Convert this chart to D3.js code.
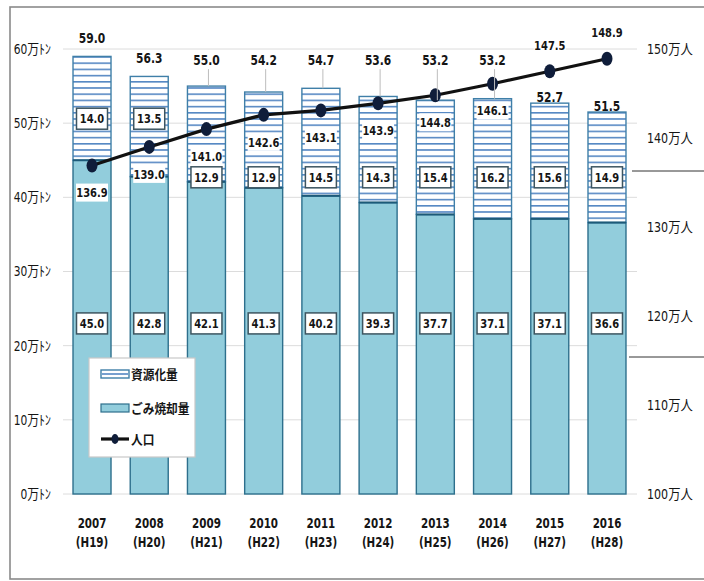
<!DOCTYPE html>
<html><head><meta charset="utf-8">
<script src="https://cdn.jsdelivr.net/npm/d3@7/dist/d3.min.js"></script>
<style>
html,body{margin:0;padding:0;background:#fff;}
text{font-family:"DejaVu Sans Condensed","Noto Sans CJK JP",sans-serif;font-stretch:condensed;fill:#151515;}
</style></head>
<body><svg id="c" width="704" height="581"></svg>
<script>
const years = ["2007","2008","2009","2010","2011","2012","2013","2014","2015","2016"];
const eras = ["(H19)","(H20)","(H21)","(H22)","(H23)","(H24)","(H25)","(H26)","(H27)","(H28)"];
const incineration = [45.0,42.8,42.1,41.3,40.2,39.3,37.7,37.1,37.1,36.6];
const recycling = [14.0,13.5,12.9,12.9,14.5,14.3,15.4,16.2,15.6,14.9];
const totals = [59.0,56.3,55.0,54.2,54.7,53.6,53.2,53.2,52.7,51.5];
const population = [136.9,139.0,141.0,142.6,143.1,143.9,144.8,146.1,147.5,148.9];
const leftTicks = [0,10,20,30,40,50,60];
const rightTicks = [100,110,120,130,140,150];
const leftUnit = "万ﾄﾝ";
const rightUnit = "万人";
const legendLabels = ["資源化量","ごみ焼却量","人口"];

const svg = d3.select("#c");
const x = d3.scaleBand().domain(years).range([63.4,635.6]).paddingInner(0.336).paddingOuter(0.168);
const y = d3.scaleLinear().domain([0,60]).range([494,49]);
const yR = d3.scaleLinear().domain([100,150]).range([494,49]);
const bw = x.bandwidth();
const cx = d => x(d) + bw/2;

const fillInc = "#92cddc", strokeBar = "#2d6f8c", stripe = "#4a7fbf";

function ctext(g, px, py, txt, size, weight, anchor, sx){
  return g.append("text").attr("transform",`translate(${px},${py}) scale(${sx||0.85},1)`)
    .attr("dy","0.36em").attr("text-anchor",anchor||"middle")
    .attr("font-size",size).attr("font-weight",weight||"normal").text(txt);
}

// frame
svg.append("rect").attr("x",10).attr("y",7).attr("width",700).attr("height",572)
  .attr("fill","none").attr("stroke","#8a8a8a").attr("stroke-width",1.6);

// pattern
const defs = svg.append("defs");
const pat = defs.append("pattern").attr("id","stripes").attr("patternUnits","userSpaceOnUse")
  .attr("width",8).attr("height",6.2).attr("y",y(60)+1);
pat.append("rect").attr("width",8).attr("height",6.2).attr("fill","#fff");
pat.append("line").attr("x1",0).attr("x2",8).attr("y1",0.8).attr("y2",0.8)
  .attr("stroke",stripe).attr("stroke-width",1.5);

// gridlines
svg.append("g").selectAll("line").data(leftTicks).join("line")
  .attr("x1",63).attr("x2",637).attr("y1",d=>y(d)).attr("y2",d=>y(d))
  .attr("stroke","#dcdcdc").attr("stroke-width",1);

// axis labels
const ax = svg.append("g");
leftTicks.forEach(d=>ctext(ax, 51, y(d), d+leftUnit, 13.5, "normal", "end", 0.88));
rightTicks.forEach(d=>ctext(ax, 647, yR(d), d+rightUnit, 14, "normal", "start", 0.88));
years.forEach((d,i)=>{
  ctext(ax, cx(d), 523, d, 14, "bold", "middle", 0.82);
  ctext(ax, cx(d), 542, eras[i], 14, "bold", "middle", 0.82);
});

// bars
svg.append("g").selectAll("rect").data(years).join("rect")
  .attr("x",d=>x(d)).attr("width",bw)
  .attr("y",(d,i)=>y(incineration[i])).attr("height",(d,i)=>y(0)-y(incineration[i]))
  .attr("fill",fillInc).attr("stroke",strokeBar).attr("stroke-width",1.4);
svg.append("g").selectAll("rect").data(years).join("rect")
  .attr("x",d=>x(d)).attr("width",bw)
  .attr("y",(d,i)=>y(incineration[i]+recycling[i])).attr("height",(d,i)=>y(incineration[i])-y(incineration[i]+recycling[i]))
  .attr("fill","url(#stripes)").attr("stroke","#3f7fa8").attr("stroke-width",1.4);
svg.append("g").selectAll("line").data(years).join("line")
  .attr("x1",d=>x(d)).attr("x2",d=>x(d)+bw)
  .attr("y1",(d,i)=>y(incineration[i])).attr("y2",(d,i)=>y(incineration[i]))
  .attr("stroke","#1d5a78").attr("stroke-width",2);

// right decorative lines
svg.append("line").attr("x1",632).attr("x2",704).attr("y1",171).attr("y2",171).attr("stroke","#333").attr("stroke-width",1);
svg.append("line").attr("x1",629).attr("x2",704).attr("y1",357).attr("y2",357).attr("stroke","#333").attr("stroke-width",1);

// segment value labels
function boxLabel(g, px, py, txt, w, h, border){
  const gg = g.append("g");
  gg.append("rect").attr("x",px-w/2).attr("y",py-h/2).attr("width",w).attr("height",h)
    .attr("fill","#fff").attr("stroke",border?"#3d5560":"none").attr("stroke-width",1.5);
  ctext(gg, px, py, txt, 13, "bold");
}
const lab = svg.append("g");
years.forEach((d,i)=>{
  boxLabel(lab, cx(d), y(23), incineration[i].toFixed(1), 31, 21, true);
  const popLeft = (population[i]-100)*60/50;
  const ry = popLeft < 48 ? 50.6 : 42.7;
  boxLabel(lab, cx(d), y(ry), recycling[i].toFixed(1), 31, 21, true);
});

// population line
const line = d3.line().x((d,i)=>cx(years[i])).y(d=>yR(d));
svg.append("path").datum(population).attr("d",line).attr("fill","none")
  .attr("stroke","#111").attr("stroke-width",3.2);
svg.append("g").selectAll("ellipse").data(population).join("ellipse")
  .attr("cx",(d,i)=>cx(years[i])).attr("cy",d=>yR(d)).attr("rx",5.5).attr("ry",7)
  .attr("fill","#0f1d3a");

// population labels
const pl = svg.append("g");
population.forEach((p,i)=>{
  const above = p >= 147;
  const py = above ? yR(p)-26 : yR(p)+27;
  const g = pl.append("g");
  g.append("rect").attr("x",cx(years[i])-16).attr("y",py-9).attr("width",32).attr("height",18).attr("fill","#fff");
  ctext(g, cx(years[i]), py, p.toFixed(1), 13, "bold");
});

// total labels
const tl = svg.append("g");
totals.forEach((t,i)=>{
  const top = y(incineration[i]+recycling[i]);
  const above = population[i] >= 147;
  const ty = above ? y(t+0.8) : y(Math.max(t+2.5,58.5));
  if (top - (ty+8) > 12) {
    tl.append("line").attr("x1",cx(years[i])+2).attr("x2",cx(years[i])+2).attr("y1",ty+9).attr("y2",top)
      .attr("stroke","#bdbdbd").attr("stroke-width",1);
  }
  ctext(tl, cx(years[i]), ty, t.toFixed(1), 14, "bold");
});

// legend
const lg = svg.append("g");
lg.append("rect").attr("x",89).attr("y",358).attr("width",106).attr("height",99)
  .attr("fill","#fff").attr("stroke","#c8c8c8").attr("stroke-width",1.2);
lg.append("rect").attr("x",101).attr("y",370).attr("width",28).attr("height",8)
  .attr("fill","#fff").attr("stroke","#3f7fa8").attr("stroke-width",1.4);
lg.append("line").attr("x1",102).attr("x2",128).attr("y1",374).attr("y2",374).attr("stroke",stripe).attr("stroke-width",1.5);
lg.append("rect").attr("x",101).attr("y",404).attr("width",28).attr("height",8)
  .attr("fill",fillInc).attr("stroke",strokeBar).attr("stroke-width",1.2);
lg.append("line").attr("x1",101).attr("x2",129).attr("y1",439).attr("y2",439).attr("stroke","#111").attr("stroke-width",3.2);
lg.append("ellipse").attr("cx",115).attr("cy",439).attr("rx",3.5).attr("ry",5).attr("fill","#0f1d3a");
const ly = [374,408,439];
legendLabels.forEach((d,i)=>ctext(lg, 131, ly[i], d, 13, "bold", "start", 0.9));
</script></body></html>
